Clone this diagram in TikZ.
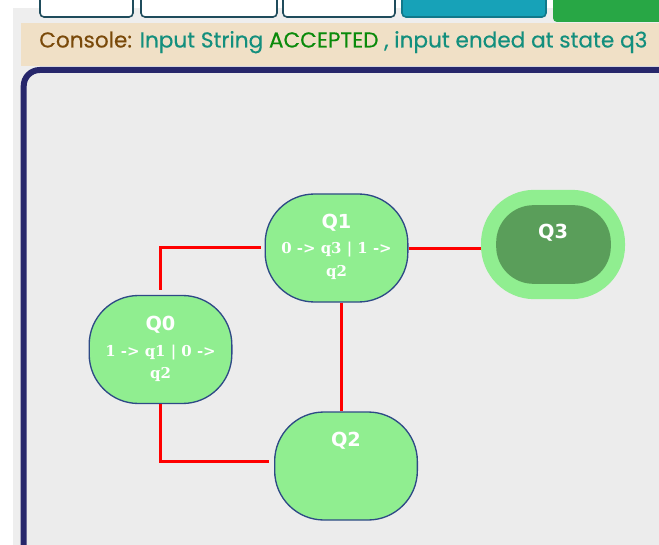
\documentclass[tikz,border=0pt]{standalone}
\usepackage{fontspec}
\setmainfont{DejaVu Sans}
\newfontfamily\consolefont{Poppins}[FakeBold=0.4]
\newfontfamily\rulefont{DejaVu Serif}
\usetikzlibrary{calc,positioning}

\definecolor{page}{HTML}{EEEEEE}
\definecolor{canvasbg}{HTML}{ECECEC}
\definecolor{frame}{HTML}{27276B}
\definecolor{bar}{HTML}{F0E0C6}
\definecolor{consolebrown}{HTML}{7A4A0A}
\definecolor{consoleteal}{HTML}{138F7D}
\definecolor{consolegreen}{HTML}{0A8A0A}
\definecolor{statefill}{HTML}{90EE90}
\definecolor{stateline}{HTML}{2E4A86}
\definecolor{acceptfill}{HTML}{5A9E5A}
\definecolor{btnline}{HTML}{1F4C5C}
\definecolor{btnteal}{HTML}{17A2B8}
\definecolor{btngreen}{HTML}{28A745}

\begin{document}
\begin{tikzpicture}[x=0.75pt,y=-0.75pt,
        state/.style={draw=stateline,line width=1pt,fill=statefill,rounded corners=37pt,
            minimum width=107pt,minimum height=81pt,inner sep=0pt},
        title/.style={anchor=base,text=white,font=\bfseries\fontsize{14.5}{17}\selectfont,inner sep=0pt},
        rule/.style={anchor=base,text=white,font=\rulefont\bfseries\fontsize{11.2}{13}\selectfont,inner sep=0pt},
        link/.style={draw=red,line width=2.25pt},
        button/.style={draw=btnline,line width=1.2pt,fill=white,rounded corners=3pt}
    ]
    \useasboundingbox (0,0) rectangle (659,545);
    \clip (0,0) rectangle (659,545);
    \fill[white] (0,0) rectangle (659,545);
    \fill[page] (13,8) rectangle (659,545);

    % toolbar
    \draw[button] (40,-10) rectangle (133,17);
    \draw[button] (141,-10) rectangle (277,17);
    \draw[button] (283,-10) rectangle (395,17);
    \draw[button,draw=btnteal!75!black,fill=btnteal] (402,-10) rectangle (546,17);
    \fill[btngreen,rounded corners=3pt] (553,-10) rectangle (680,22);

    % console
    \fill[bar] (21,23) rectangle (659,66);
    \node[anchor=base west,inner sep=0pt,font=\consolefont\fontsize{16.2}{19}\selectfont] (console) at (39,47.5)
        {\textcolor{consolebrown}{Console:} \textcolor{consoleteal}{Input String}
         \textcolor{consolegreen}{ACCEPTED} \textcolor{consoleteal}{, input ended at state q3}};

    % canvas
    \draw[frame,fill=canvasbg,line width=4.5pt,rounded corners=12pt] (23.7,70) rectangle (720,620);

    % states
    \node[state] (q1) at (336.5,248) {};
    \node[state] (q0) at (160.5,349.5) {};
    \node[state] (q2) at (346,466) {};
    \node[fill=statefill,rounded corners=40pt,minimum width=108pt,minimum height=82pt] (q3) at (553,244.5) {};
    \node[fill=acceptfill,rounded corners=28pt,minimum width=86pt,minimum height=59pt] (q3in) at (553.5,244.5) {};

    \node[title] (q1t) at ($(q1.north)+(0,35)$) {Q1};
    \node[rule] (q1a) at ($(q1.north)+(0,60.5)$) {0 -> q3 | 1 ->};
    \node[rule] (q1b) at ($(q1.north)+(0,83)$) {q2};
    \node[title] (q0t) at ($(q0.north)+(0,36)$) {Q0};
    \node[rule] (q0a) at ($(q0.north)+(0,61.5)$) {1 -> q1 | 0 ->};
    \node[rule] (q0b) at ($(q0.north)+(0,83.5)$) {q2};
    \node[title] (q2t) at ($(q2.north)+(0,35.5)$) {Q2};
    \node[title] (q3t) at ($(q3.north)+(0,48.5)$) {Q3};

    % transitions
    \draw[link,shorten <=4pt,shorten >=3pt] (q0.north) |- ([yshift=0.75pt]q1.west);
    \draw[link] (q1.east) -- (q1.east -| q3.west);
    \draw[link] ([xshift=3.4pt]q1.south) -- ([xshift=3.4pt]q1.south |- q2.north);
    \draw[link,shorten >=3.75pt] (q0.south) |- ([yshift=3.75pt]q2.west);
\end{tikzpicture}
\end{document}
